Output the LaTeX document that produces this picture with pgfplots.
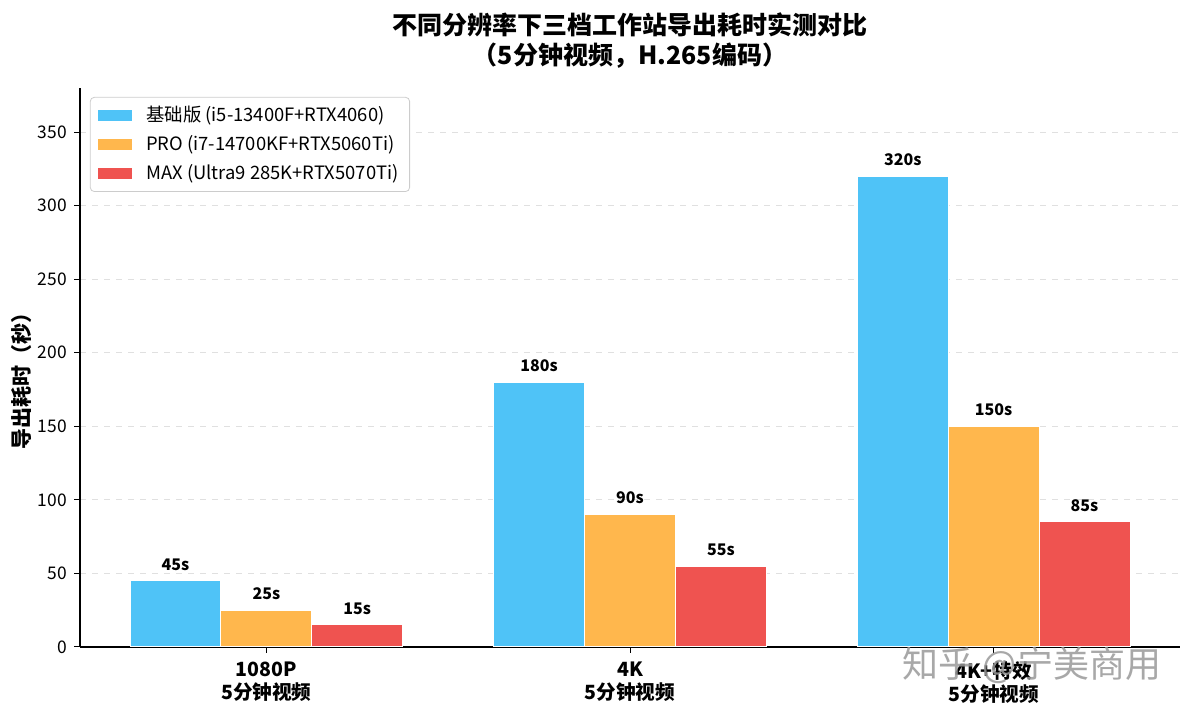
\documentclass[border=0pt]{standalone}
\usepackage{fontspec}
\setmainfont{Noto Sans CJK SC}
\usepackage{pgfplots}
\pgfplotsset{compat=1.18}
\definecolor{cblue}{HTML}{4FC3F7}
\definecolor{corange}{HTML}{FFB74D}
\definecolor{cred}{HTML}{EF5350}
\begin{document}
\begin{tikzpicture}
\path[use as bounding box] (0,0) rectangle (596pt,357.5pt);
\begin{axis}[
  at={(40pt,34pt)}, anchor=south west,
  scale only axis, width=550pt, height=279.5pt,
  xmin=-0.5125, xmax=2.5125, ymin=0, ymax=380,
  axis x line*=bottom, axis y line*=left,
  axis line style={line width=0.6pt},
  tick align=outside, major tick length=3pt,
  tick style={black, line width=0.5pt},
  xtick={0,1,2},
  xticklabels={{1080P\\5分钟视频},{4K\\5分钟视频},{4K+特效\\5分钟视频}},
  xticklabel style={align=center, font=\bfseries\fontsize{9.8}{11.5}\selectfont, yshift=-1pt},
  ytick={0,50,...,350},
  yticklabel style={font=\fontsize{8.7}{10}\selectfont},
  /pgf/number format/assume math mode=true,
  ymajorgrids, grid style={dashed, black!12, line width=0.4pt},
  legend cell align=left,
  legend style={at={(0.009,0.984)}, anchor=north west, draw=black!20,
    rounded corners=2pt, font=\fontsize{9.2}{11}\selectfont,
    row sep=1.4pt, inner xsep=3.5pt, inner ysep=2.5pt},
  legend image code/.code={\fill[#1, sharp corners] (0pt,-3pt) rectangle (17.5pt,3pt);
    \path (17.5pt,0pt) -- (22pt,0pt);},
  nodes near coords={\pgfmathprintnumber{\pgfplotspointmeta}s},
  nodes near coords style={font=\bfseries\fontsize{8}{9}\selectfont, anchor=south, inner sep=0pt, yshift=5pt, text=black},
]
\addplot[ybar, bar width=0.25, bar shift=0, fill=cblue, draw=white, line width=0.5pt]
  coordinates {(-0.25,45) (0.75,180) (1.75,320)};
\addlegendentry{基础版 (i5-13400F+RTX4060)}
\addplot[ybar, bar width=0.25, bar shift=0, fill=corange, draw=white, line width=0.5pt]
  coordinates {(0,25) (1,90) (2,150)};
\addlegendentry{PRO (i7-14700KF+RTX5060Ti)}
\addplot[ybar, bar width=0.25, bar shift=0, fill=cred, draw=white, line width=0.5pt]
  coordinates {(0.25,15) (1.25,55) (2.25,85)};
\addlegendentry{MAX (Ultra9 285K+RTX5070Ti)}
\end{axis}
\node[font=\bfseries\fontsize{12.5}{15}\selectfont, align=center] at (315pt,337pt)
  {不同分辨率下三档工作站导出耗时实测对比\\（5分钟视频，H.265编码）};
\node[font=\bfseries\fontsize{10.5}{12}\selectfont, rotate=90] at (11pt,169.5pt) {导出耗时（秒）};
\node[font=\fontsize{18}{20}\selectfont, text=black!40, opacity=0.85] at (516pt,25pt) {知乎 @宁美商用};
\end{tikzpicture}
\end{document}
